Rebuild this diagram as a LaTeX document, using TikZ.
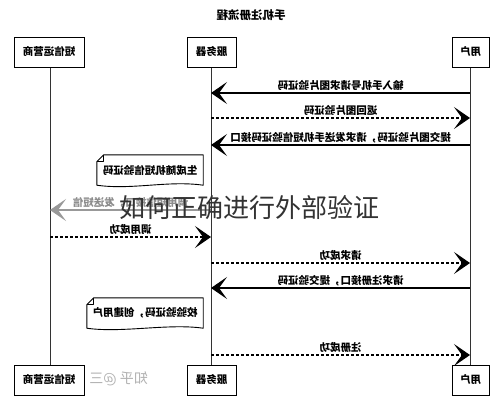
\documentclass[tikz,border=0pt]{standalone}
\usepackage{fontspec}
\usepackage{graphicx}
\setmainfont{Noto Sans CJK SC}
\usetikzlibrary{arrows.meta,calc}
\newcommand{\mir}[1]{\reflectbox{#1}}
\begin{document}
\begin{tikzpicture}[x=1pt,y=-1pt,
  txt/.style={font=\fontsize{10.5}{12}\selectfont\bfseries},
  actor/.style={txt, draw, line width=1pt, fill=white, minimum height=30pt, inner sep=0pt},
  life/.style={line width=0.9pt, black!80},
  msg/.style={line width=1.1pt, -{Stealth[length=16pt,width=22pt,inset=8pt]}},
  ret/.style={msg, dash pattern=on 3pt off 2pt},
  lbl/.style={txt, inner sep=1pt, above, yshift=0.5pt},
  notetxt/.style={txt, inner sep=0pt, minimum height=30pt},
  notebox/.style={line width=0.9pt, line join=round}
]
\useasboundingbox (0,0) rectangle (500,400);
\fill[white] (0,0) rectangle (500,400);

% title
\node[font=\fontsize{11.5}{13}\selectfont\bfseries] (title) at (251,15) {\mir{手机注册流程}};

% actors top
\node[actor, minimum width=70pt] (smsT) at (49,52) {\mir{短信运营商}};
\node[actor, minimum width=49pt] (srvT) at (211.5,52) {\mir{服务器}};
\node[actor, minimum width=37pt] (usrT) at (470.5,52) {\mir{用户}};

% watermark bottom
\node[anchor=east, text=black!30, font=\fontsize{14}{16}\selectfont, inner sep=0pt] (zh) at (148,379) {\mir{知乎 @三}};

% actors bottom
\node[actor, minimum width=70pt] (smsB) at (49,380) {\mir{短信运营商}};
\node[actor, minimum width=49pt] (srvB) at (211.5,380) {\mir{服务器}};
\node[actor, minimum width=37pt] (usrB) at (470.5,380) {\mir{用户}};

% lifelines
\draw[life] ($(smsT.south)+(1,0)$) -- ($(smsB.north)+(1,0)$);
\draw[life] ($(srvT.south)+(-0.5,0)$) -- ($(srvB.north)+(-0.5,0)$);
\draw[life] ($(usrT.south)+(-0.5,0)$) -- ($(usrB.north)+(-0.5,0)$);

% message y positions
\coordinate (m1) at (0,93);
\coordinate (m2) at (0,118);
\coordinate (m3) at (0,145);
\coordinate (m5) at (0,210);
\coordinate (m6) at (0,237);
\coordinate (m7) at (0,263);
\coordinate (m8) at (0,288);
\coordinate (m10) at (0,355);
\coordinate (xs) at (50,0);
\coordinate (xv) at (211,0);
\coordinate (xu) at (470,0);

\draw[msg] (xu |- m1) -- node[lbl]{\mir{输入手机号请求图片验证码}} (xv |- m1);
\draw[ret] (xv |- m2) -- node[lbl]{\mir{返回图片验证码}} (xu |- m2);
\draw[msg] (xu |- m3) -- node[lbl]{\mir{提交图片验证码，请求发送手机短信验证码接口}} (xv |- m3);

% note 1
\node[notetxt, minimum width=106pt] (n1) at (150,170) {\mir{生成随机短信验证码}};
\draw[notebox] ($(n1.north west)+(7,0)$) -- (n1.north east) -- (n1.south east)
  .. controls ($(n1.south east)+(-35,-5)$) and ($(n1.south west)+(35,5)$) .. (n1.south west)
  -- ($(n1.north west)+(0,7)$) -- cycle;
\draw[notebox] ($(n1.north west)+(7,0)$) -- ($(n1.north west)+(7,7)$) -- ($(n1.north west)+(0,7)$);

% gray call
\draw[msg, black!40] (xv |- m5) -- node[lbl, text=black!45]{\mir{调用短信接口，发送短信}} (xs |- m5);

\draw[ret] (xs |- m6) -- node[lbl]{\mir{调用成功}} (xv |- m6);
\draw[ret] (xv |- m7) -- node[lbl]{\mir{请求成功}} (xu |- m7);
\draw[msg] (xu |- m8) -- node[lbl]{\mir{请求注册接口，提交验证码}} (xv |- m8);

% note 2
\node[notetxt, minimum width=116pt] (n2) at (145,313) {\mir{校验验证码，创建用户}};
\draw[notebox] ($(n2.north west)+(7,0)$) -- (n2.north east) -- (n2.south east)
  .. controls ($(n2.south east)+(-35,-5)$) and ($(n2.south west)+(35,5)$) .. (n2.south west)
  -- ($(n2.north west)+(0,7)$) -- cycle;
\draw[notebox] ($(n2.north west)+(7,0)$) -- ($(n2.north west)+(7,7)$) -- ($(n2.north west)+(0,7)$);

\draw[ret] (xv |- m10) -- node[lbl]{\mir{注册成功}} (xu |- m10);

% overlay watermark
\node[text=black!80, font=\fontsize{26}{28}\selectfont, inner sep=0pt] (wm) at (249,208) {如何正确进行外部验证};
\end{tikzpicture}
\end{document}
